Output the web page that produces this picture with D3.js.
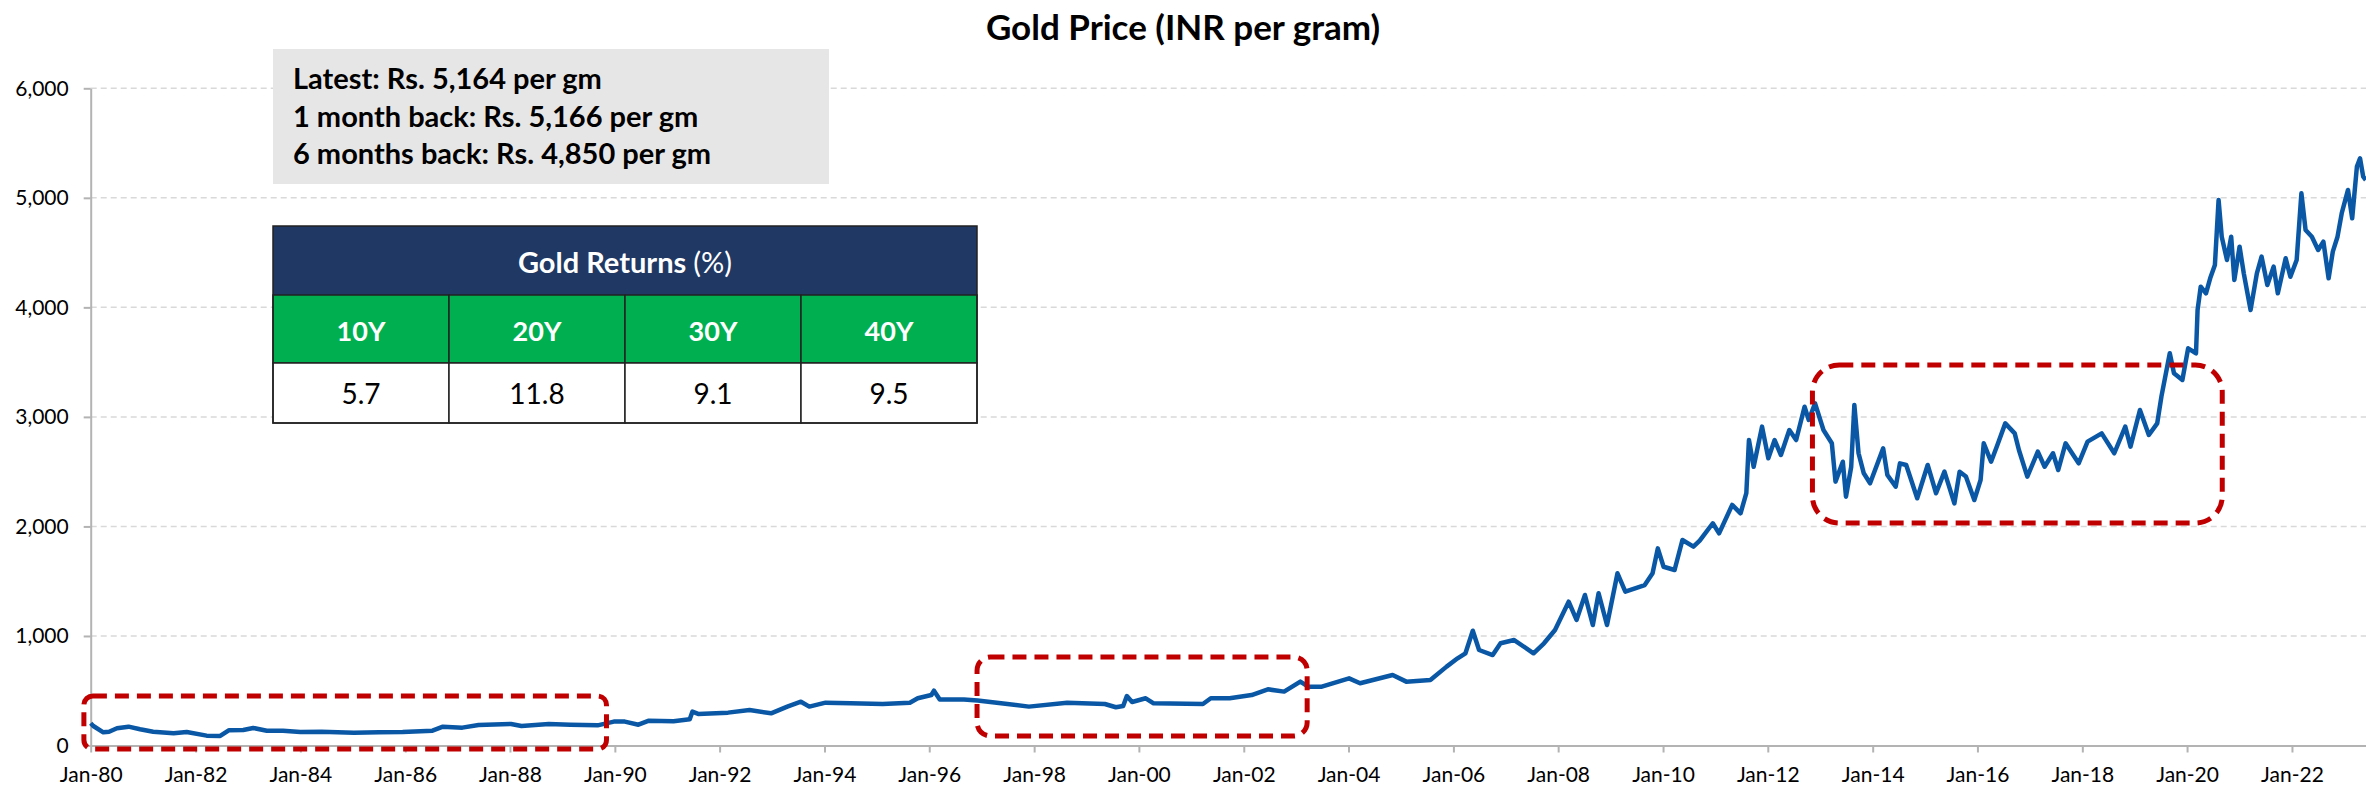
<!DOCTYPE html>
<html lang="en">
<head>
<meta charset="UTF-8">
<style>
    body { margin: 0; background: #fff; }
    svg text { font-family: Lato, "Open Sans", sans-serif; }
    .grid line { stroke: #d9d9d9; stroke-width: 1.5; stroke-dasharray: 6,4; }
    .axis path, .axis line { stroke: #b3b3b3; stroke-width: 2; fill: none; }
    .axis text { fill: #000; font-size: 21px; }
    .title { font-size: 35px; font-weight: bold; }
    .info text { font-size: 29px; font-weight: bold; }
    .highlight { fill: none; stroke: #c00000; stroke-width: 5; stroke-dasharray: 14,8; }
</style>
</head>
<body>
<svg id="chart" width="2366" height="789"></svg>

<script src="https://cdn.jsdelivr.net/npm/d3@7"></script>
<script>
// gold price, INR per gram (decimal year, price)
var years = [
    1980.00, 1980.05, 1980.24, 1980.35, 1980.50, 1980.72, 1980.94, 1981.19, 1981.58, 1981.83,
    1982.21, 1982.47, 1982.64, 1982.91, 1983.10, 1983.36, 1983.67, 1984.00, 1984.40, 1985.02,
    1985.50, 1985.95, 1986.52, 1986.72, 1987.09, 1987.40, 1988.02, 1988.22, 1988.74, 1989.15,
    1989.67, 1989.98, 1990.19, 1990.45, 1990.65, 1991.12, 1991.43, 1991.48, 1991.59, 1992.16,
    1992.57, 1992.98, 1993.29, 1993.55, 1993.71, 1994.02, 1994.50, 1995.11, 1995.63, 1995.78,
    1996.04, 1996.09, 1996.20, 1996.66, 1996.92, 1997.49, 1997.90, 1998.63, 1999.35, 1999.56,
    1999.70, 1999.77, 1999.87, 2000.13, 2000.28, 2001.22, 2001.37, 2001.73, 2002.15, 2002.46,
    2002.77, 2003.08, 2003.23, 2003.49, 2004.01, 2004.22, 2004.84, 2005.10, 2005.56, 2005.87,
    2006.08, 2006.23, 2006.37, 2006.49, 2006.75, 2006.90, 2007.16, 2007.53, 2007.73, 2007.94,
    2008.20, 2008.35, 2008.51, 2008.66, 2008.77, 2008.93, 2009.13, 2009.28, 2009.65, 2009.80,
    2009.90, 2010.01, 2010.22, 2010.37, 2010.58, 2010.70, 2010.95, 2011.07, 2011.32, 2011.48,
    2011.59, 2011.64, 2011.73, 2011.89, 2012.01, 2012.13, 2012.25, 2012.41, 2012.54, 2012.70,
    2012.78, 2012.90, 2013.06, 2013.22, 2013.29, 2013.43, 2013.49, 2013.59, 2013.65, 2013.73,
    2013.83, 2013.95, 2014.20, 2014.28, 2014.44, 2014.52, 2014.64, 2014.85, 2015.05, 2015.21,
    2015.37, 2015.56, 2015.66, 2015.78, 2015.94, 2016.06, 2016.12, 2016.26, 2016.38, 2016.53,
    2016.71, 2016.79, 2016.95, 2017.15, 2017.28, 2017.44, 2017.54, 2017.68, 2017.93, 2018.10,
    2018.37, 2018.61, 2018.82, 2018.92, 2019.10, 2019.27, 2019.43, 2019.51, 2019.67, 2019.75,
    2019.91, 2020.02, 2020.17, 2020.20, 2020.26, 2020.36, 2020.44, 2020.53, 2020.60, 2020.66,
    2020.76, 2020.84, 2020.90, 2021.00, 2021.08, 2021.21, 2021.33, 2021.42, 2021.53, 2021.65,
    2021.73, 2021.88, 2021.97, 2022.09, 2022.18, 2022.26, 2022.38, 2022.50, 2022.60, 2022.70,
    2022.78, 2022.87, 2022.95, 2023.07, 2023.15, 2023.24, 2023.30, 2023.36, 2023.41
];
var prices = [
    203, 178, 120, 126, 157, 172, 148, 126, 111, 123,
    90, 87, 140, 142, 160, 135, 135, 123, 126, 117,
    120, 123, 135, 172, 163, 187, 196, 178, 196, 190,
    184, 218, 218, 190, 227, 221, 239, 309, 288, 300,
    324, 294, 355, 400, 355, 391, 385, 379, 391, 431,
    461, 500, 420, 420, 410, 379, 355, 391, 379, 349,
    361, 452, 397, 431, 385, 379, 431, 431, 461, 513,
    492, 583, 537, 537, 613, 568, 644, 583, 598, 720,
    796, 842, 1048, 872, 826, 933, 963, 842, 933, 1054,
    1313, 1146, 1374, 1100, 1390, 1100, 1572, 1404, 1465, 1572,
    1800, 1632, 1602, 1876, 1815, 1870, 2029, 1937, 2196, 2120,
    2303, 2789, 2545, 2911, 2622, 2789, 2652, 2880, 2789, 3093,
    2972, 3124, 2880, 2759, 2409, 2591, 2272, 2545, 3109, 2668,
    2485, 2394, 2713, 2470, 2363, 2576, 2561, 2257, 2561, 2303,
    2500, 2211, 2500, 2455, 2241, 2424, 2759, 2591, 2743, 2941,
    2850, 2698, 2455, 2683, 2545, 2668, 2515, 2759, 2576, 2774,
    2850, 2668, 2911, 2728, 3063, 2835, 2941, 3185, 3581, 3398,
    3337, 3626, 3581, 3976, 4189, 4128, 4265, 4387, 4980, 4645,
    4433, 4645, 4250, 4554, 4311, 3976, 4311, 4463, 4204, 4372,
    4128, 4448, 4280, 4433, 5041, 4706, 4645, 4524, 4600, 4265,
    4509, 4645, 4859, 5072, 4813, 5285, 5360, 5193, 5163
];

var yTicks = [0, 1000, 2000, 3000, 4000, 5000, 6000];

var infoLines = ["Latest: Rs. 5,164 per gm", "1 month back: Rs. 5,166 per gm", "6 months back: Rs. 4,850 per gm"];
var returnPeriods = ["10Y", "20Y", "30Y", "40Y"];
var returnValues = [5.7, 11.8, 9.1, 9.5];

// highlighted flat periods: [start year, end year, low price, high price]
var boxStart = [1979.87, 1996.91, 2012.85];
var boxEnd = [1989.84, 2003.21, 2020.67];
var boxLow = [-32, 87, 2031];
var boxHigh = [452, 808, 3474];

function toDate(v) {
    var yr = Math.floor(v);
    var start = new Date(yr, 0, 1), next = new Date(yr + 1, 0, 1);
    return new Date(start.getTime() + (v - yr) * (next - start));
}

var data = years.map(function (v, i) { return { date: toDate(v), price: prices[i] }; });

var plotLeft = 90.7, plotRight = 2366, plotTop = 88.3, plotBottom = 745.5;

var svg = d3.select("#chart");

var x = d3.scaleTime()
    .domain([new Date(1980, 0, 1), new Date(2023, 5, 1)])
    .range([plotLeft, plotRight]);

var y = d3.scaleLinear()
    .domain([0, 6000])
    .range([plotBottom, plotTop]);

// title
svg.append("text")
    .attr("class", "title")
    .attr("x", 1183)
    .attr("y", 40)
    .attr("text-anchor", "middle")
    .text("Gold Price (INR per gram)");

// gridlines
svg.append("g")
    .attr("class", "grid")
    .selectAll("line")
    .data(yTicks.filter(function (d) { return d > 0; }))
    .enter().append("line")
    .attr("x1", plotLeft).attr("x2", plotRight)
    .attr("y1", function (d) { return y(d); })
    .attr("y2", function (d) { return y(d); });

var yAxis = d3.axisLeft(y)
    .tickValues(yTicks)
    .tickFormat(d3.format(","))
    .tickSize(7)
    .tickSizeOuter(0)
    .tickPadding(15);

svg.append("g")
    .attr("class", "axis")
    .attr("transform", "translate(" + plotLeft + ",0)")
    .call(yAxis);

var xAxis = d3.axisBottom(x)
    .ticks(d3.timeYear.every(2))
    .tickFormat(d3.timeFormat("Jan-%y"))
    .tickSize(7)
    .tickSizeOuter(0)
    .tickPadding(15);

svg.append("g")
    .attr("class", "axis")
    .attr("transform", "translate(0," + plotBottom + ")")
    .call(xAxis);

// price line
var line = d3.line()
    .x(function (d) { return x(d.date); })
    .y(function (d) { return y(d.price); });

svg.append("path")
    .datum(data)
    .attr("d", line)
    .attr("fill", "none")
    .attr("stroke", "#0a58a5")
    .attr("stroke-width", 4.5)
    .attr("stroke-linejoin", "round");

// red dashed boxes
boxStart.forEach(function (s, i) {
    var x0 = x(toDate(s)), x1 = x(toDate(boxEnd[i]));
    var y0 = y(boxHigh[i]), y1 = y(boxLow[i]);
    var r = Math.min(x1 - x0, y1 - y0) * 0.17;
    svg.append("rect")
        .attr("class", "highlight")
        .attr("x", x0).attr("y", y0)
        .attr("width", x1 - x0).attr("height", y1 - y0)
        .attr("rx", r).attr("ry", r);
});

// info box
var info = svg.append("g").attr("class", "info");
info.append("rect")
    .attr("x", 273).attr("y", 49)
    .attr("width", 556).attr("height", 135)
    .attr("fill", "#e7e6e6");
info.selectAll("text")
    .data(infoLines)
    .enter().append("text")
    .attr("x", 293)
    .attr("y", function (d, i) { return 89.3 + i * 37.5; })
    .text(function (d) { return d; });

// returns table
var tx = 273, colW = 176, rowTop = [226, 295, 363, 423];
var table = svg.append("g").attr("class", "table");

table.append("rect")
    .attr("x", tx).attr("y", rowTop[0])
    .attr("width", colW * 4).attr("height", rowTop[1] - rowTop[0])
    .attr("fill", "#203864");

table.selectAll(".hdr")
    .data(returnPeriods)
    .enter().append("rect")
    .attr("x", function (d, i) { return tx + i * colW; })
    .attr("y", rowTop[1])
    .attr("width", colW).attr("height", rowTop[2] - rowTop[1])
    .attr("fill", "#00b050")
    .attr("stroke", "#222").attr("stroke-width", 1.5);

table.selectAll(".val")
    .data(returnValues)
    .enter().append("rect")
    .attr("x", function (d, i) { return tx + i * colW; })
    .attr("y", rowTop[2])
    .attr("width", colW).attr("height", rowTop[3] - rowTop[2])
    .attr("fill", "#fff")
    .attr("stroke", "#222").attr("stroke-width", 1.5);

table.append("rect")
    .attr("x", tx).attr("y", rowTop[0])
    .attr("width", colW * 4).attr("height", rowTop[3] - rowTop[0])
    .attr("fill", "none")
    .attr("stroke", "#222").attr("stroke-width", 1.5);

var head = table.append("text")
    .attr("x", tx + colW * 2)
    .attr("y", 273)
    .attr("text-anchor", "middle")
    .attr("fill", "#fff")
    .attr("font-size", "29px");
head.append("tspan").attr("font-weight", "bold").text("Gold Returns ");
head.append("tspan").text("(%)");

table.selectAll(".period")
    .data(returnPeriods)
    .enter().append("text")
    .attr("x", function (d, i) { return tx + i * colW + colW / 2; })
    .attr("y", 341)
    .attr("text-anchor", "middle")
    .attr("fill", "#fff")
    .attr("font-size", "27px")
    .attr("font-weight", "bold")
    .text(function (d) { return d; });

table.selectAll(".ret")
    .data(returnValues)
    .enter().append("text")
    .attr("x", function (d, i) { return tx + i * colW + colW / 2; })
    .attr("y", 404)
    .attr("text-anchor", "middle")
    .attr("fill", "#000")
    .attr("font-size", "28px")
    .text(function (d) { return d; });
</script>
</body>
</html>
